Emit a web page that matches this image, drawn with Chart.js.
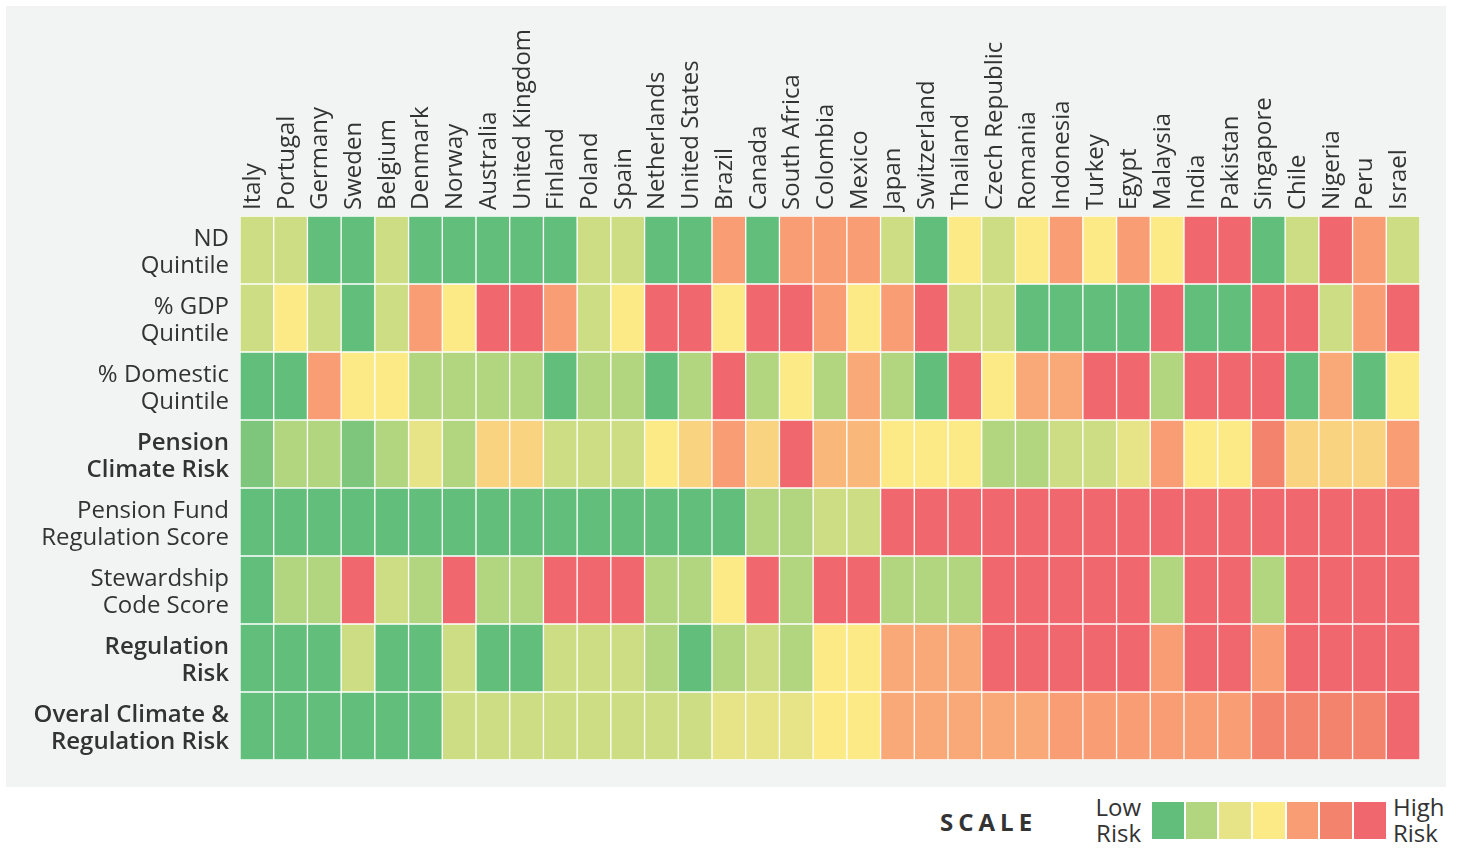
<!DOCTYPE html>
<html><head><meta charset="utf-8">
<script src="https://cdn.jsdelivr.net/npm/chart.js@4"></script>
<style>
html,body{margin:0;padding:0;background:#fff;width:1459px;height:858px;overflow:hidden;font-family:'Open Sans',sans-serif;color:#333;}
#panel{position:absolute;left:6px;top:6px;width:1440px;height:781px;background:#f2f4f3;}
#c{position:absolute;left:0;top:0;}
#scaleTitle{position:absolute;left:940px;top:806px;font-size:24px;font-weight:bold;letter-spacing:5px;line-height:32px;}
#low{position:absolute;right:318px;top:794px;font-size:24px;line-height:26px;text-align:right;}
#high{position:absolute;left:1393px;top:794px;font-size:24px;line-height:26px;text-align:left;}
#sw{position:absolute;left:1151px;top:801px;height:39px;display:flex;}
#sw div{width:33.7px;height:39px;box-sizing:border-box;border:1px solid #fff;}
</style></head>
<body>
<div id="panel"></div>
<canvas id="c" width="1459" height="790"></canvas>
<div id="scaleTitle">SCALE</div>
<div id="low">Low<br>Risk</div>
<div id="sw"></div>
<div id="high">High<br>Risk</div>
<script>
const countries = ["Italy","Portugal","Germany","Sweden","Belgium","Denmark","Norway","Australia","United Kingdom","Finland","Poland","Spain","Netherlands","United States","Brazil","Canada","South Africa","Colombia","Mexico","Japan","Switzerland","Thailand","Czech Republic","Romania","Indonesia","Turkey","Egypt","Malaysia","India","Pakistan","Singapore","Chile","Nigeria","Peru","Israel"];
const rowLabels = [["ND","Quintile"],["% GDP","Quintile"],["% Domestic","Quintile"],["Pension","Climate Risk"],["Pension Fund","Regulation Score"],["Stewardship","Code Score"],["Regulation","Risk"],["Overal Climate &","Regulation Risk"]];
const boldRows = [3,6,7];
// risk scores on a 1 (low) .. 7 (high) scale
const ndQuintile = [2.5,2.5,1,1,2.5,1,1,1,1,1,2.5,2.5,1,1,5,1,5,5,5,2.5,1,4,2.5,4,5,4,5,4,7,7,1,2.5,7,5,2.5];
const gdpQuintile = [2.5,4,2.5,1,2.5,5,4,7,7,5,2.5,4,7,7,4,7,7,5,4,5,7,2.5,2.5,1,1,1,1,7,1,1,7,7,2.5,5,7];
const domesticQuintile = [1,1,5,4,4,2,2,2,2,1,2,2,1,2,7,2,4,2,4.85,2,1,7,4,4.85,4.85,7,7,2,7,7,7,1,4.85,1,4];
const pensionClimateRisk = [1.35,2,2,1.35,2,3,2,4.3,4.3,2.5,2.5,2.5,4,4.3,5,4.3,7,4.65,4.65,4,4,4,2,2,2.5,2.5,3,5,4,4,6,4.3,4.3,4.3,5];
const regulationScore = [1,1,1,1,1,1,1,1,1,1,1,1,1,1,1,2,2,2.5,2.5,7,7,7,7,7,7,7,7,7,7,7,7,7,7,7,7];
const stewardshipScore = [1,2,2,7,2.5,2,7,2,2,7,7,7,2,2,4,7,2,7,7,2,2,2,7,7,7,7,7,2,7,7,2,7,7,7,7];
const regulationRisk = [1,1,1,2.5,1,1,2.5,1,1,2.5,2.5,2.5,2,1,2,2.5,2,4,4,4.85,4.85,4.85,7,7,7,7,7,5,7,7,5,7,7,7,7];
const overallRisk = [1,1,1,1,1,1,2.5,2.5,2.5,2.5,2.5,2.5,2.5,2.5,3,3,3,4,4,4.85,4.85,4.85,4.85,4.85,5,5,5,5,5,5,6,6,6,6,7];
const rows = [ndQuintile,gdpQuintile,domesticQuintile,pensionClimateRisk,regulationScore,stewardshipScore,regulationRisk,overallRisk];
const scaleColors = ['#62be7b','#b2d67f','#e6e486','#fbea85','#f89d74','#f4836e','#f0686e'];

function hex(c){return [1,3,5].map(i=>parseInt(c.substr(i,2),16));}
function scoreColor(s){
  const i=Math.min(Math.floor(s)-1,5), t=s-1-i;
  const a=hex(scaleColors[i]), b=hex(scaleColors[Math.min(i+1,6)]);
  return 'rgb('+a.map((v,k)=>Math.round(v+(b[k]-v)*t)).join(',')+')';
}
const sw=document.getElementById('sw');
scaleColors.forEach(c=>{const d=document.createElement('div');d.style.background=c;sw.appendChild(d);});

const FONT="'Open Sans', sans-serif";
new Chart(document.getElementById('c'),{
  type:'bar',
  data:{labels:countries,datasets:rows.map((r,ri)=>({
    label:rowLabels[ri].join(' '),
    data:r.map(()=>[ri,ri+1]),
    backgroundColor:r.map(scoreColor),
    borderColor:'#ffffff',borderWidth:1,borderSkipped:false,
    grouped:false,barPercentage:1,categoryPercentage:1
  }))},
  options:{
    responsive:false,animation:false,devicePixelRatio:1,
    layout:{padding:{left:0,top:0,right:39,bottom:30}},
    plugins:{legend:{display:false},tooltip:{enabled:false}},
    scales:{
      x:{type:'category',position:'top',grid:{display:false,drawTicks:false},border:{display:false},
        ticks:{autoSkip:false,minRotation:90,maxRotation:90,padding:6,labelOffset:25,color:'#333',font:{family:FONT,size:24}},
        afterFit:s=>{s.height=216;s.paddingLeft=0;s.paddingRight=0;}},
      y:{type:'linear',reverse:true,min:0,max:8,grid:{display:false,drawTicks:false},border:{display:false},
        afterBuildTicks:s=>{s.ticks=rowLabels.map((_,i)=>({value:i+0.5}));},
        afterFit:s=>{s.width=240;s.paddingTop=0;s.paddingBottom=0;},
        ticks:{padding:11,labelOffset:3,color:'#333',callback:v=>rowLabels[Math.floor(v)],
          font:ctx=>({family:FONT,size:24,lineHeight:1.125,weight:boldRows.includes(ctx.index)?'600':'normal'})}}
    }
  }
});
</script>
</body></html>
